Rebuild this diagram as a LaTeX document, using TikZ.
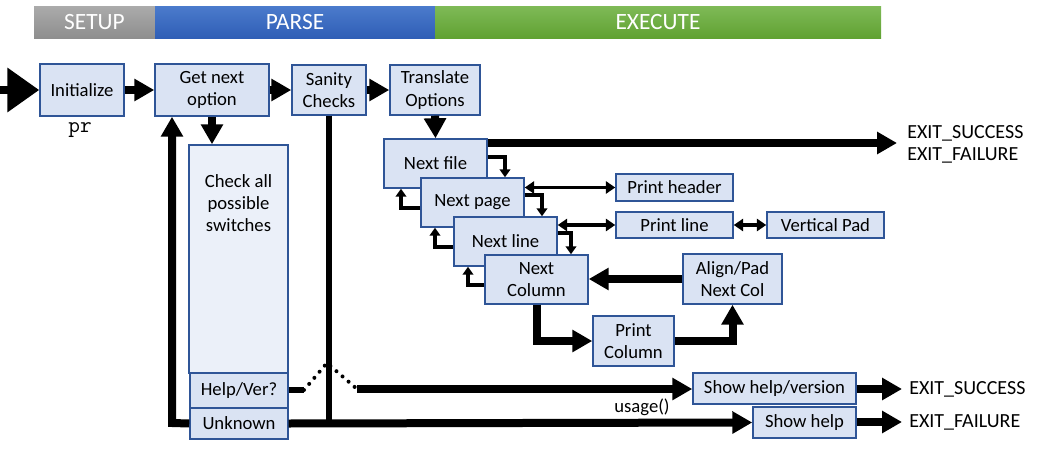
\documentclass[tikz,border=0pt]{standalone}
\usepackage{fontspec}
\setmainfont{Carlito}
\usetikzlibrary{arrows.meta}
\definecolor{boxfill}{HTML}{DAE3F3}
\definecolor{boxline}{HTML}{2F5597}
\definecolor{checkfill}{HTML}{EBF0F9}
\definecolor{setupT}{HTML}{ABABAB}
\definecolor{setupB}{HTML}{8E8E8E}
\definecolor{parseT}{HTML}{4B7BCC}
\definecolor{parseB}{HTML}{2F5EB6}
\definecolor{execT}{HTML}{7FBA57}
\definecolor{execB}{HTML}{60A232}
\begin{document}
\begin{tikzpicture}[x=0.75pt,y=-0.75pt,
  font=\fontsize{14}{16.8}\selectfont,
  box/.style={draw=boxline, fill=boxfill, line width=1.1pt, inner sep=0pt, align=center},
  sz/.style 2 args={minimum width=#1*0.75pt, minimum height=#2*0.75pt},
  hdr/.style={inner sep=0pt, text=white, font=\fontsize{17.5}{20}\selectfont},
  lbl/.style={inner sep=0pt, align=left, font=\fontsize{15}{18}\selectfont},
  big/.style={line width=6pt, -{Triangle[length=15pt,width=16pt]}},
  bigline/.style={line width=5pt},
  sm/.style={line width=2.5pt, -{Triangle[length=6pt,width=8pt]}},
  dbl/.style={line width=2.5pt, {Triangle[length=7pt,width=9pt]}-{Triangle[length=7pt,width=9pt]}},
  dots/.style={line width=3pt, dash pattern=on 0pt off 6pt, line cap=round}
]
\useasboundingbox (0,0) rectangle (1040,450);

% header bars
\node[hdr, sz={121}{32}, top color=setupT, bottom color=setupB] (setup) at (94.5,22) {SETUP};
\node[hdr, sz={280}{32}, top color=parseT, bottom color=parseB] (parse) at (295,22) {PARSE};
\node[hdr, sz={446}{32}, top color=execT, bottom color=execB] (exec) at (658,22) {EXECUTE};

% top row
\node[box, sz={84}{52}] (init) at (82,90) {Initialize};
\node[inner sep=0pt, font=\fontsize{17}{20}\selectfont\ttfamily] (pr) at (80,130) {pr};
\node[box, sz={114}{52}] (getopt) at (212,90) {Get next\\option};
\node[box, sz={74}{50}] (sanity) at (329,90) {Sanity\\Checks};
\node[box, sz={90}{50}] (transl) at (435,90) {Translate\\Options};

% check all switches
\node[box, fill=checkfill, sz={99}{228}] (check) at (238.5,259) {};
\node[inner sep=0pt, align=center] (checkt) at (238.5,203) {Check all\\possible\\switches};
\node[box, sz={98}{35}] (helpver) at (239,390.5) {Help/Ver?};
\node[box, sz={98}{31}] (unknown) at (239,423.5) {Unknown};

% execute cascade
\node[box, sz={103}{49}] (nextfile) at (435.5,163.5) {Next file};
\node[box, sz={103}{49}] (nextpage) at (472.5,202.5) {Next page};
\node[box, sz={103}{49}] (nextline) at (505.5,241.5) {Next line};
\node[box, sz={103}{49}] (nextcol) at (536.5,279.5) {Next\\Column};

\node[box, sz={117}{27}] (prhead) at (674.5,187.5) {Print header};
\node[box, sz={117}{26}] (prline) at (674.5,225) {Print line};
\node[box, sz={117}{26}] (vpad) at (825.5,225) {Vertical Pad};
\node[box, sz={99}{50}] (align) at (732.5,279) {Align/Pad\\Next Col};
\node[box, sz={81}{50}] (prcol) at (633.5,341) {Print\\Column};

\node[box, sz={163}{31}] (showhv) at (774.5,388.5) {Show help/version};
\node[box, sz={103}{31}] (showh) at (804.5,422.5) {Show help};

% labels
\node[lbl, anchor=west] (exs1) at (907,133) {EXIT\_SUCCESS};
\node[lbl, anchor=west] (exf1) at (907,155) {EXIT\_FAILURE};
\node[lbl, anchor=west] (exs2) at (909,389) {EXIT\_SUCCESS};
\node[lbl, anchor=west] (exf2) at (909,422) {EXIT\_FAILURE};
\node[inner sep=0pt] (usage) at (642,407) {usage()};

% coordinates
\coordinate (start) at (0,90);
\coordinate (exitarr) at (897,143);
\coordinate (lp) at (172,423);
\coordinate (hj1) at (304,390);
\coordinate (hjt) at (327,363);
\coordinate (hj2) at (357,389);
\coordinate (sarr) at (902,389);
\coordinate (farr) at (902,422);

% main flow
\draw[line width=6pt, -{Triangle[length=24pt,width=32pt]}] (start) -- (init.west);
\draw[big] (init.east) -- (getopt.west);
\draw[big] (getopt.east) -- (sanity.west);
\draw[big] (sanity.east) -- (transl.west);
\draw[big] (transl.south) -- (nextfile.north);
\draw[big] (getopt.south) -- (getopt.south |- check.north);
\draw[big] (unknown.west) -- (lp) -- (lp |- getopt.south);

% parse exits
\draw[bigline] (sanity.south) -- (sanity.south |- unknown.east);
\draw[big] (unknown.east) -- (showh.west);
\draw[bigline] (helpver.east |- hj1) -- (hj1);
\draw[dots] (hj1) -- (hjt) -- (hj2);
\draw[big] (hj2) -- (showhv.west |- hj2);
\draw[big] (showhv.east |- sarr) -- (sarr);
\draw[big] (showh.east |- farr) -- (farr);

% next file exit
\draw[big] (nextfile.east |- exitarr) -- (exitarr);

% cascade small arrows
\draw[sm] (nextfile.east |- 0,157) -- (505,157) -- (nextpage.north -| 505,0);
\draw[sm] (nextpage.east |- 0,195) -- (542,195) -- (nextline.north -| 542,0);
\draw[sm] (nextline.east |- 0,233) -- (571,233) -- (nextcol.north -| 571,0);
\draw[sm] (nextpage.west |- 0,208) -- (401,208) -- (nextfile.south -| 401,0);
\draw[sm] (nextline.west |- 0,247) -- (435,247) -- (nextpage.south -| 435,0);
\draw[sm] (nextcol.west |- 0,285) -- (468,285) -- (nextline.south -| 468,0);

% print helpers
\draw[dbl] (nextpage.east |- prhead.west) -- (prhead.west);
\draw[dbl] (nextline.east |- prline.west) -- (prline.west);
\draw[dbl] (prline.east) -- (vpad.west);

% column loop
\draw[big] (align.west) -- (nextcol.east |- align.west);
\draw[big] (nextcol.south) |- (prcol.west);
\draw[big] (prcol.east) -| (align.south);
\end{tikzpicture}
\end{document}
